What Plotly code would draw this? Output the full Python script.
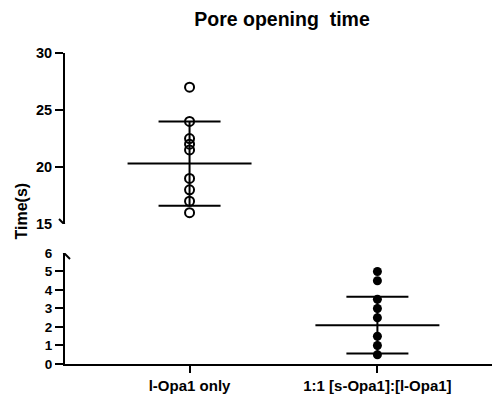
import plotly.graph_objects as go

categories = ["l-Opa1 only", "1:1 [s-Opa1]:[l-Opa1]"]
group1_values = [27, 24, 22.5, 22, 21.5, 19, 18, 17, 16]
group2_values = [5, 4.5, 3.5, 3, 2.5, 1.5, 1, 0.5]
group_means = [20.3, 2.1]
group_sds = [3.7, 1.53]

upper_ticks = [15, 20, 25, 30]
lower_ticks = [0, 1, 2, 3, 4, 5, 6]

FONT = "Liberation Sans, Arial, sans-serif"
fig = go.Figure()

# points
fig.add_trace(go.Scatter(
    x=[0] * len(group1_values), y=group1_values, yaxis="y2", mode="markers",
    marker=dict(symbol="circle-open", size=9, color="black", line=dict(width=2)),
    showlegend=False, cliponaxis=False))
fig.add_trace(go.Scatter(
    x=[1] * len(group2_values), y=group2_values, yaxis="y", mode="markers",
    marker=dict(symbol="circle", size=9, color="black"),
    showlegend=False, cliponaxis=False))

# mean +/- SD
for i, ax in [(0, "y2"), (1, "y")]:
    fig.add_trace(go.Scatter(
        x=[i], y=[group_means[i]], yaxis=ax, mode="markers",
        marker=dict(size=1, color="rgba(0,0,0,0)"),
        error_y=dict(type="data", array=[group_sds[i]], color="black", thickness=2, width=31),
        error_x=dict(type="data", array=[0.33], color="black", thickness=2, width=0),
        showlegend=False, cliponaxis=False))

W, H = 494, 396
fig.update_layout(
    width=W, height=H,
    margin=dict(l=65, r=2, t=53, b=32),
    plot_bgcolor="white", paper_bgcolor="white",
    font=dict(family=FONT, color="black"),
    title=dict(text="<b>Pore opening  time</b>", x=282 / W, xanchor="center",
               y=1 - 19 / H, yanchor="middle", xref="container", yref="container",
               font=dict(size=19.5, family=FONT, color="black")),
    xaxis=dict(range=[-0.663, 1.61], tickvals=[0, 1], ticktext=[f"<b>{c}</b>" for c in categories],
               showline=True, linecolor="black", linewidth=2, ticks="outside", ticklen=7,
               tickwidth=2, tickcolor="black", showgrid=False, zeroline=False,
               tickfont=dict(size=15, family=FONT, color="black"), anchor="y"),
    yaxis=dict(domain=[0, 0.357], range=[0, 6], tickvals=lower_ticks,
               ticktext=[f"<b>{t}</b>" for t in lower_ticks],
               showline=True, linecolor="black", linewidth=2, ticks="", ticklabelstandoff=8,
               minor=dict(tickvals=lower_ticks[:-1], ticks="outside", ticklen=8, tickwidth=2,
                          tickcolor="black"),
               showgrid=False, zeroline=False,
               tickfont=dict(size=13.5, family=FONT, color="black")),
    yaxis2=dict(domain=[0.450, 1], range=[15, 30], tickvals=upper_ticks,
                ticktext=[f"<b>{t}</b>" for t in upper_ticks],
                showline=True, linecolor="black", linewidth=2, ticks="", ticklabelstandoff=8,
                minor=dict(tickvals=upper_ticks[1:], ticks="outside", ticklen=8, tickwidth=2,
                           tickcolor="black"),
                showgrid=False, zeroline=False, anchor="x",
                tickfont=dict(size=14.5, family=FONT, color="black")),
)

# axis break marks
for ax, val in [("y2", 15), ("y", 6)]:
    fig.add_shape(type="line", xref="paper", yref=ax, xsizemode="pixel", ysizemode="pixel",
                  xanchor=0, yanchor=val, x0=-6, x1=5, y0=5, y1=-6,
                  line=dict(color="black", width=2))

fig.add_annotation(text="<b>Time(s)</b>", xref="paper", yref="paper", x=0, y=(364 - 211) / 311,
                   xanchor="center", yanchor="middle", textangle=-90, showarrow=False,
                   font=dict(size=16, family=FONT, color="black"), xshift=20.5 - 65)

fig.write_html("out.html")
